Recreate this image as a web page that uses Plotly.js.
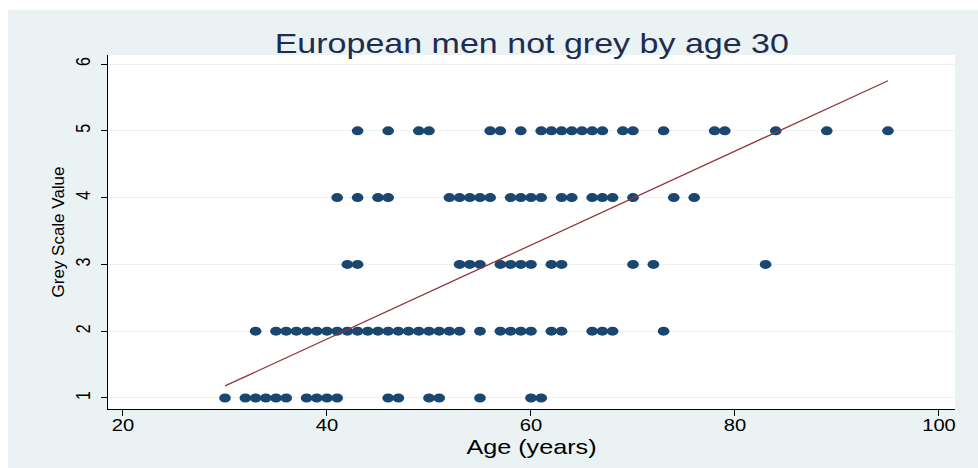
<!DOCTYPE html>
<html>
<head>
<meta charset="utf-8">
<script src="https://cdn.plot.ly/plotly-3.0.1.min.js"></script>
<style>
  html, body { margin: 0; padding: 0; background: #ffffff; }
  #chart { position: absolute; left: 8px; top: 10px; width: 970px; height: 458px; }
</style>
</head>
<body>
<div id="chart"></div>
<script>
// Ages of subjects at each grey scale value
const age1 = [30, 32, 33, 34, 35, 36, 38, 39, 40, 41, 46, 47, 50, 51, 55, 60, 61];
const age2 = [33, 35, 36, 37, 38, 39, 40, 41, 42, 43, 44, 45, 46, 47, 48, 49, 50, 51, 52, 53,
              55, 57, 58, 59, 60, 62, 63, 66, 67, 68, 73];
const age3 = [42, 43, 53, 54, 55, 57, 58, 59, 60, 62, 63, 70, 72, 83];
const age4 = [41, 43, 45, 46, 52, 53, 54, 55, 56, 58, 59, 60, 61, 63, 64, 66, 67, 68, 70, 74, 76];
const age5 = [43, 46, 49, 50, 56, 57, 59, 61, 62, 63, 64, 65, 66, 67, 69, 70, 73, 78, 79, 84, 89, 95];
const greyLevels = [1, 2, 3, 4, 5];

// Linear fit line (end points)
const fitAge = [30, 95];
const fitGrey = [1.18, 5.75];

const xTicks = [20, 40, 60, 80, 100];
const yTicks = [1, 2, 3, 4, 5, 6];

const groups = [age1, age2, age3, age4, age5];
const xs = [], ys = [];
groups.forEach((g, i) => g.forEach(a => { xs.push(a); ys.push(greyLevels[i]); }));

const navy = '#1A476F';
const maroon = '#90353B';

const traces = [
  {
    x: xs, y: ys, type: 'scatter', mode: 'markers',
    marker: { color: navy, size: 9, line: { width: 0 } },
    hoverinfo: 'x+y', showlegend: false
  },
  {
    x: fitAge, y: fitGrey, type: 'scatter', mode: 'lines',
    line: { color: maroon, width: 1.3 },
    showlegend: false
  }
];

const layout = {
  width: 970, height: 458,
  paper_bgcolor: '#EAF2F3',
  plot_bgcolor: '#FFFFFF',
  margin: { l: 100, r: 23, t: 45, b: 59 },
  showlegend: false,
  font: { family: 'Liberation Sans, Arial, sans-serif', color: '#000000' },
  title: {
    text: 'European men not grey by age 30',
    font: { family: 'Liberation Sans, Arial, sans-serif', size: 27, color: '#1E2D4F' },
    x: 0.540, xanchor: 'center', y: 0.926, yanchor: 'middle'
  },
  xaxis: {
    range: [18.53, 101.57],
    tickvals: xTicks, ticktext: xTicks.map(String),
    ticks: 'outside', ticklen: 6, tickcolor: '#000', tickwidth: 1,
    showline: true, linecolor: '#000', linewidth: 1,
    showgrid: false, zeroline: false,
    tickfont: { size: 16, color: '#000' },
    title: { text: 'Age (years)', font: { size: 20, color: '#000' }, standoff: 0 }
  },
  yaxis: {
    range: [0.835, 6.135],
    tickvals: yTicks, ticktext: yTicks.map(String),
    tickangle: -90,
    ticks: 'outside', ticklen: 6, tickcolor: '#000', tickwidth: 1,
    showline: true, linecolor: '#000', linewidth: 1,
    showgrid: true, gridcolor: '#EAF2F3', gridwidth: 1,
    zeroline: false,
    ticklabelstandoff: 6,
    tickfont: { size: 16, color: '#000' },
    title: { text: 'Grey Scale Value', font: { family: 'Liberation Sans, Arial, sans-serif', size: 17, color: '#000' }, standoff: 5 }
  }
};

// Horizontal stretch of an SVG element about its own centre (the reference is widened)
function stretchX(el, s, dy) {
  const svg = el.ownerSVGElement;
  const parent = el.parentNode;
  if (!svg || !parent || !parent.getScreenCTM) return;
  const r = el.getBoundingClientRect();
  const pt = svg.createSVGPoint();
  pt.x = r.left + r.width / 2;
  pt.y = r.top + r.height / 2;
  const p = pt.matrixTransform(parent.getScreenCTM().inverse());
  const old = el.getAttribute('transform') || '';
  el.setAttribute('transform',
    'translate(0,' + (dy || 0) + ') translate(' + p.x + ',' + p.y + ') scale(' + s + ',1) translate(' + (-p.x) + ',' + (-p.y) + ') ' + old);
}

Plotly.newPlot('chart', traces, layout, { displayModeBar: false, staticPlot: true }).then(gd => {
  const S = 1.26;
  gd.querySelectorAll('.gtitle, .ytick text').forEach(el => stretchX(el, S, 0));
  gd.querySelectorAll('.xtick text').forEach(el => stretchX(el, S, -4));
  gd.querySelectorAll('.xtitle').forEach(el => stretchX(el, S, -2));
  gd.querySelectorAll('.scatterlayer .points path.point').forEach(el => stretchX(el, 1.3, 0));
});
</script>
</body>
</html>
